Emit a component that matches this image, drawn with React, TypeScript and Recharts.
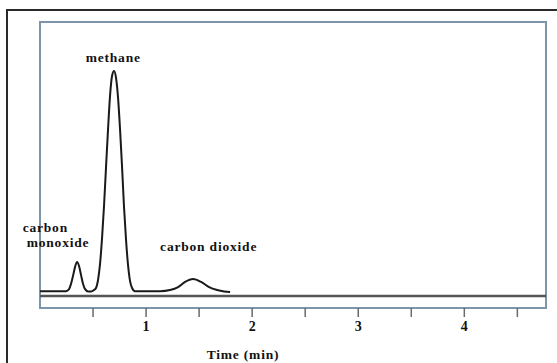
import React from "react";
import { LineChart, Line, XAxis, YAxis, ReferenceLine, ReferenceDot, ReferenceArea } from "recharts";

// Retention time (min) and detector signal (arbitrary units, 0-100 scale)
const times: number[] = [
  0, 0.245, 0.274, 0.292, 0.311, 0.33, 0.349, 0.368, 0.387, 0.406, 0.425, 0.453, 0.481, 0.509,
  0.528, 0.547, 0.566, 0.585, 0.604, 0.623, 0.642, 0.66, 0.679, 0.698, 0.717, 0.736, 0.755,
  0.774, 0.792, 0.811, 0.83, 0.849, 0.868, 0.896,
  1.132, 1.226, 1.302, 1.368, 1.443, 1.519, 1.594, 1.67, 1.736, 1.792,
];
const signal: number[] = [
  5.9, 5.9, 6.6, 8.4, 11.2, 14.3, 16.1, 14.7, 11.5, 8.4, 6.6, 5.8, 5.8, 6.3,
  7.0, 9.8, 15.4, 24.5, 36.0, 49.7, 62.9, 74.1, 81.1, 82.9, 80.4, 73.4, 62.2,
  49.0, 35.3, 23.8, 15.0, 9.4, 7.0, 5.9,
  5.9, 6.3, 7.3, 9.1, 10.1, 9.1, 7.3, 6.3, 5.8, 5.6,
];
const xTicks: number[] = [0.5, 1, 1.5, 2, 2.5, 3, 3.5, 4, 4.5];
const xTickLabels: Record<string, string> = { "1": "1", "2": "2", "3": "3", "4": "4" };
const baselineLevel = 4.2;

const peakLabels = [
  { text: "methane", t: 0.69, v: 87.8 },
  { text: "carbon", t: 0.05, v: 28.4 },
  { text: "monoxide", t: 0.17, v: 23.0 },
  { text: "carbon dioxide", t: 1.59, v: 21.7 },
];

const data = times.map((t, i) => ({ t, signal: signal[i] }));

const FONT = "'Liberation Serif', 'DejaVu Serif', serif";
const BOX = "#7d95ab";

const textStyle: React.CSSProperties = {
  fontFamily: FONT,
  fontWeight: 700,
  fontSize: 13.5,
  letterSpacing: 0.8,
};

export default function App() {
  return (
    <div style={{ position: "absolute", left: 0, top: 0, width: 557, height: 363, background: "#fff" }}>
      <div
        style={{
          position: "absolute",
          left: 6,
          top: 9,
          width: 557 - 8,
          height: 363 - 11,
          borderTop: "2px solid #2a2a2a",
          borderLeft: "2px solid #2a2a2a",
        }}
      />
      <LineChart
        width={557}
        height={363}
        data={data}
        margin={{ top: 22, right: 11, left: 40, bottom: 0 }}
        style={{ position: "absolute", left: 0, top: 0 }}
      >
        <XAxis
          dataKey="t"
          type="number"
          domain={[0, 4.77]}
          ticks={xTicks}
          allowDataOverflow
          height={55}
          tickSize={9}
          tickMargin={4}
          tickLine={{ stroke: "#6a6a6a", strokeWidth: 1.5 }}
          axisLine={{ stroke: BOX, strokeWidth: 2 }}
          tickFormatter={(v: number) => xTickLabels[String(v)] ?? ""}
          tick={{ fill: "#111", fontFamily: FONT, fontWeight: 700, fontSize: 14 }}
          label={{
            content: (props: any) => {
              const vb = props.viewBox || { x: 40, y: 308 };
              return (
                <text
                  x={vb.x + 203}
                  y={vb.y + 51}
                  textAnchor="middle"
                  fill="#111"
                  style={textStyle}
                >
                  Time (min)
                </text>
              );
            },
          }}
        />
        <YAxis
          type="number"
          domain={[0, 100]}
          width={0}
          tick={false}
          tickLine={false}
          axisLine={{ stroke: "#858e97", strokeWidth: 1.5 }}
        />
        <ReferenceArea
          x1={0}
          x2={4.77}
          y1={0}
          y2={100}
          fill="none"
          fillOpacity={0}
          stroke={BOX}
          strokeWidth={2}
        />
        <ReferenceLine y={baselineLevel} stroke="#555" strokeWidth={2.5} />
        <Line
          dataKey="signal"
          type="monotone"
          dot={false}
          stroke="#1a1a1a"
          strokeWidth={2}
          isAnimationActive={false}
        />
        {peakLabels.map((p) => (
          <ReferenceDot
            key={p.text}
            x={p.t}
            y={p.v}
            r={0}
            stroke="none"
            fill="none"
            label={{
              content: (props: any) => {
                const vb = props.viewBox || {};
                const cx = vb.cx ?? vb.x ?? 0;
                const cy = vb.cy ?? vb.y ?? 0;
                return (
                  <text x={cx} y={cy} dy="0.35em" textAnchor="middle" fill="#111" style={textStyle}>
                    {p.text}
                  </text>
                );
              },
            }}
          />
        ))}
      </LineChart>
    </div>
  );
}
